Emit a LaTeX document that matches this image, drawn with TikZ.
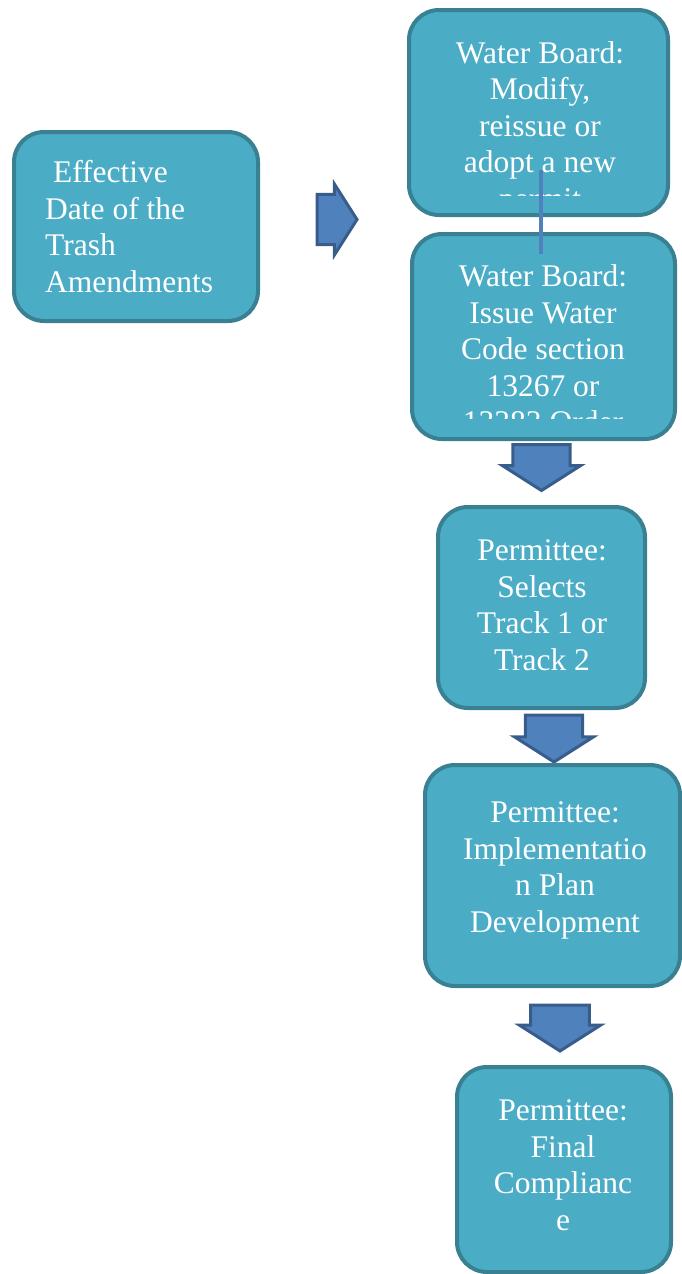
\documentclass[tikz,border=0pt]{standalone}
\usepackage{fontspec}
\setmainfont{Liberation Serif}
\usetikzlibrary{calc,shapes.arrows}

\definecolor{boxfill}{RGB}{75,172,198}
\definecolor{boxline}{RGB}{56,128,146}
\definecolor{arrowfill}{RGB}{79,129,189}
\definecolor{arrowline}{RGB}{56,93,138}

\tikzset{
    stepbox/.style={draw=boxline, line width=4pt, fill=boxfill, rounded corners=30pt, inner sep=0pt},
    boxtext/.style={text=white, inner sep=0pt, align=center, anchor=north, font=\fontsize{31.5}{36.5}\selectfont},
    blockarrow/.style={single arrow, draw=arrowline, line width=3pt, fill=arrowfill, inner xsep=0pt, single arrow tip angle=115, anchor=tail}
}

\begin{document}
\begin{tikzpicture}[x=1pt, y=-1pt]
            \useasboundingbox (0,0) rectangle (682,1274);

            % Block arrows between the steps
            \node[blockarrow, minimum height=40pt, minimum width=71pt, inner ysep=15.5pt] (right) at (315.5,219.5) {};
            \node[blockarrow, rotate=-90, minimum height=46pt, minimum width=78pt, inner ysep=18pt] (down1) at (541.5,443) {};
            \node[blockarrow, rotate=-90, minimum height=47pt, minimum width=79pt, inner ysep=17.5pt] (down2) at (554,713.5) {};
            \node[blockarrow, rotate=-90, minimum height=46pt, minimum width=81pt, inner ysep=17.5pt] (down3) at (560,1003.5) {};

            % Start box
            \node[stepbox, minimum width=244pt, minimum height=189pt] (effective) at (136,226.5) {};
            \node[boxtext, align=left, anchor=north west] (efftext) at (45,160.5) {~Effective\\Date of the\\Trash\\Amendments};

            % Water Board boxes (text cut off at the bottom)
            \node[stepbox, minimum width=259pt, minimum height=205pt] (modify) at (538.5,112.5) {};
            \node[stepbox, minimum width=263pt, minimum height=205pt] (issue) at (543.5,336.5) {};
            \begin{scope}
                \clip (407,8) rectangle (670,195);
                \node[boxtext] (modifytext) at (540,41) {Water Board:\\Modify,\\reissue or\\adopt a new\\permit};
            \end{scope}
            \begin{scope}
                \clip (410,232) rectangle (677,418);
                \node[boxtext] (issuetext) at (543,264.5) {Water Board:\\Issue Water\\Code section\\13267 or\\13383 Order};
            \end{scope}

            % Permittee boxes
            \node[stepbox, minimum width=207pt, minimum height=201pt] (select) at (541.5,607.5) {};
            \node[boxtext] (selecttext) at (542,539.5) {Permittee:\\Selects\\Track 1 or\\Track 2};

            \node[stepbox, minimum width=255pt, minimum height=221pt] (plan) at (552.5,875.5) {};
            \node[boxtext] (plantext) at (555,801.5) {Permittee:\\Implementatio\\n Plan\\Development};

            \node[stepbox, minimum width=214pt, minimum height=205pt] (final) at (564,1169.5) {};
            \node[boxtext] (finaltext) at (563,1099.5) {Permittee:\\Final\\Complianc\\e};

            % Thin link from the first to the second Water Board box
            \draw[arrowfill, line width=4pt] ($(modify.south)+(2.5,-47)$) -- ($(issue.north)+(-2.5,22)$);
        \end{tikzpicture}
\end{document}
